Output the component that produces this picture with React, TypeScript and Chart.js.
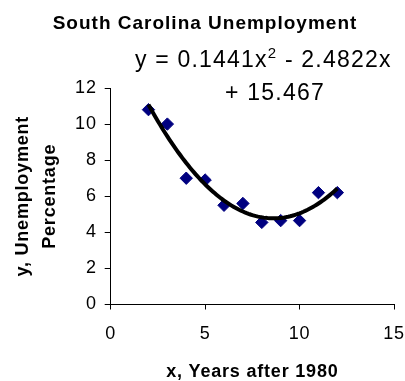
import React, { useEffect, useRef } from "react";
import { Chart, registerables } from "chart.js";

Chart.register(...registerables);

const chartTitle = "South Carolina Unemployment";
const xAxisTitle = "x, Years after 1980";
const yAxisTitle = ["y, Unemployment", "Percentage"];
const yearsAfter1980 = [2, 3, 4, 5, 6, 7, 8, 9, 10, 11, 12];
const unemploymentPct = [10.8, 10.0, 7.0, 6.9, 5.5, 5.6, 4.55, 4.65, 4.65, 6.2, 6.2];
// trendline y = a x^2 + b x + c (as printed on the chart)
const trendCoefficients = [0.1441, -2.4822, 15.467];
const trendRange = [2, 12];
const xTicks = [0, 5, 10, 15];
const yTicks = [0, 2, 4, 6, 8, 10, 12];

const FONT = "'Liberation Sans', Arial, sans-serif";

export default function App() {
  const ref = useRef<HTMLCanvasElement | null>(null);

  useEffect(() => {
    const canvas = ref.current;
    if (!canvas) return;
    const [a, b, c] = trendCoefficients;
    const trend: { x: number; y: number }[] = [];
    for (let x = trendRange[0]; x <= trendRange[1] + 1e-9; x += 0.1) {
      trend.push({ x, y: a * x * x + b * x + c });
    }

    const textPlugin = {
      id: "textPlugin",
      beforeDraw(chart: any) {
        chart.ctx.letterSpacing = "0.8px";
      },
      afterDraw(chart: any) {
        const ctx = chart.ctx as CanvasRenderingContext2D & { letterSpacing: string };
        ctx.save();
        ctx.fillStyle = "#000";
        ctx.textBaseline = "alphabetic";
        // title
        ctx.letterSpacing = "1px";
        ctx.font = `bold 19px ${FONT}`;
        ctx.textAlign = "center";
        ctx.fillText(chartTitle, 205, 29);
        // trendline equation
        ctx.letterSpacing = "1.2px";
        ctx.textAlign = "left";
        let x = 135;
        const base1 = 67;
        const p1 = `y = ${a}x`;
        ctx.font = `23px ${FONT}`;
        ctx.fillText(p1, x, base1);
        x += ctx.measureText(p1).width;
        ctx.font = `15px ${FONT}`;
        ctx.fillText("2", x, base1 - 9);
        x += ctx.measureText("2").width;
        const p2 = ` ${b < 0 ? "-" : "+"} ${Math.abs(b)}x`;
        ctx.font = `23px ${FONT}`;
        ctx.fillText(p2, x, base1);
        ctx.textAlign = "center";
        ctx.fillText(`${c < 0 ? "-" : "+"} ${Math.abs(c)}`, 275, 100);
        ctx.restore();
      },
    };

    const chart = new Chart(canvas, {
      type: "scatter",
      data: {
        datasets: [
          {
            type: "line",
            label: "Trend",
            data: trend,
            borderColor: "#000000",
            borderWidth: 4,
            pointRadius: 0,
            fill: false,
            tension: 0,
            order: 0,
          } as any,
          {
            label: "Unemployment",
            data: yearsAfter1980.map((x, i) => ({ x, y: unemploymentPct[i] })),
            backgroundColor: "#000080",
            borderColor: "#000080",
            borderWidth: 1,
            pointStyle: "rectRot",
            pointRadius: 6.2,
            order: 1,
          },
        ],
      },
      options: {
        animation: false,
        responsive: false,
        layout: { padding: { top: 88, right: 11, left: 0, bottom: 0 } },
        plugins: {
          legend: { display: false },
          tooltip: { enabled: false },
          title: { display: false },
        },
        scales: {
          x: {
            type: "linear",
            min: 0,
            max: 15,
            afterBuildTicks: (s: any) => {
              s.ticks = xTicks.map((v) => ({ value: v }));
            },
            afterFit: (s: any) => {
              s.height = 76.5;
              s.paddingLeft = 0;
              s.paddingRight = 0;
            },
            ticks: {
              color: "#000",
              font: { family: FONT, size: 18 },
              padding: 14,
              maxRotation: 0,
            },
            grid: {
              display: true,
              drawOnChartArea: false,
              drawTicks: true,
              tickLength: 5,
              color: "#000",
            },
            border: { display: true, color: "#000", width: 1 },
            title: {
              display: true,
              text: xAxisTitle,
              color: "#000",
              font: { family: FONT, size: 18, weight: "bold", lineHeight: 1 },
              padding: { top: 0, bottom: 0 },
            },
          },
          y: {
            type: "linear",
            min: 0,
            max: 12,
            afterBuildTicks: (s: any) => {
              s.ticks = yTicks.map((v) => ({ value: v }));
            },
            afterFit: (s: any) => {
              s.width = 110.7;
            },
            ticks: {
              color: "#000",
              font: { family: FONT, size: 18 },
              padding: 8,
            },
            grid: {
              display: true,
              drawOnChartArea: false,
              drawTicks: true,
              tickLength: 6,
              color: "#000",
            },
            border: { display: true, color: "#000", width: 1 },
            title: {
              display: true,
              text: yAxisTitle,
              color: "#000",
              font: { family: FONT, size: 18, weight: "bold", lineHeight: 1.5 },
              padding: { top: 9.5, bottom: 0 },
            },
          },
        },
      },
      plugins: [textPlugin],
    });
    return () => chart.destroy();
  }, []);

  return (
    <div style={{ position: "absolute", left: 0, top: 0, width: 405, height: 381, background: "#fff" }}>
      <canvas ref={ref} width={405} height={381} />
    </div>
  );
}
